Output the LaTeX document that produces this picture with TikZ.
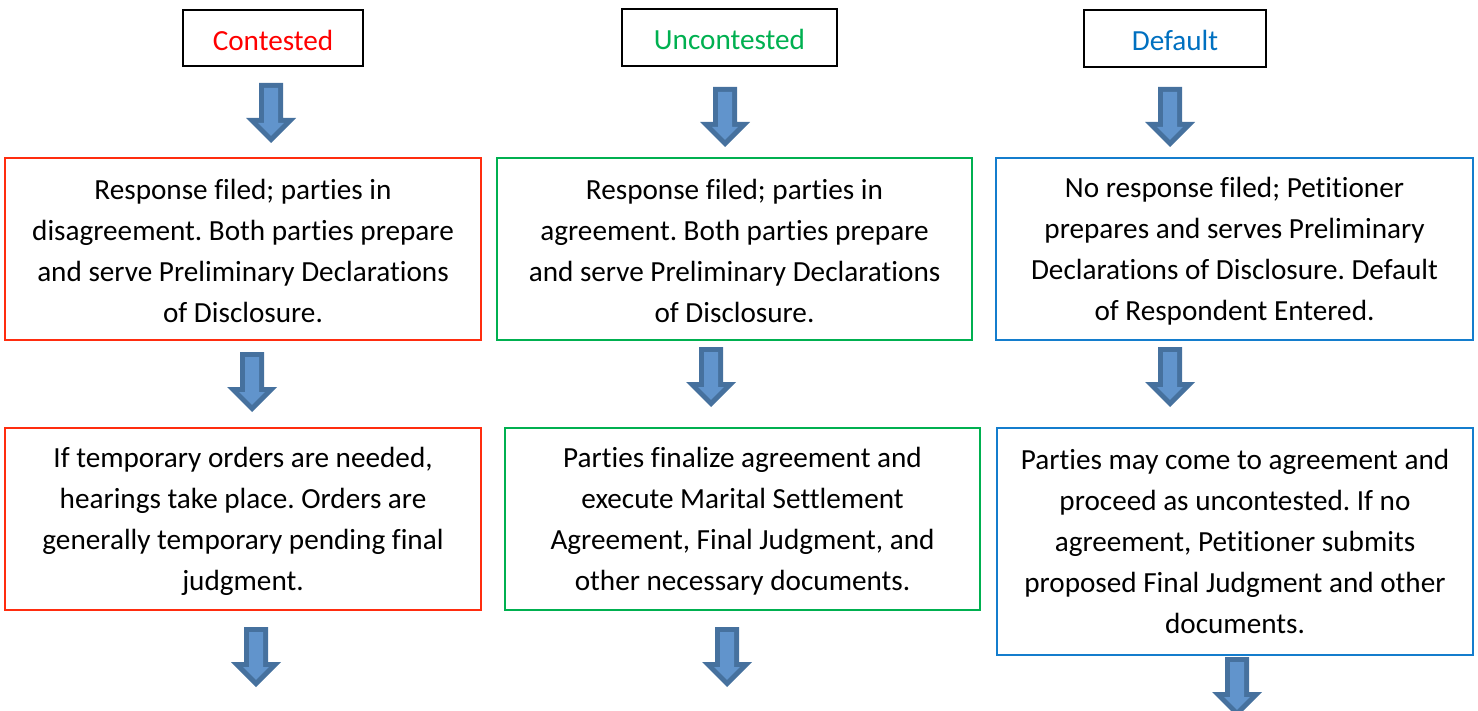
\documentclass[tikz,border=0pt]{standalone}
\usepackage{fontspec}
\setmainfont{Carlito}[Ligatures={NoCommon}]
\frenchspacing
\definecolor{cred}{RGB}{255,0,0}
\definecolor{bred}{RGB}{255,45,15}
\definecolor{cgreen}{RGB}{0,176,80}
\definecolor{cblue}{RGB}{0,112,192}
\definecolor{bblue}{RGB}{20,125,205}
\definecolor{arrowfill}{RGB}{97,148,204}
\definecolor{arrowline}{RGB}{70,113,158}
\newcommand\fstrut{\rule{0pt}{25pt}}
\tikzset{
  box/.style={draw, line width=2pt, inner sep=0pt, align=center,
    font=\fontsize{29.2}{41}\selectfont\frenchspacing},
  titlebox/.style={box, draw=black},
  barrow/.pic={
    \fill[arrowline] (-12,0) -- (12,0) -- (12,35) -- (25,35) -- (0,60) -- (-25,35) -- (-12,35) -- cycle;
    \fill[arrowfill] (-7,5) -- (7,5) -- (7,40) -- (12.9,40) -- (0,52.9) -- (-12.9,40) -- (-7,40) -- cycle;
  }
}
\begin{document}
\begin{tikzpicture}[x=1pt,y=-1pt]
\useasboundingbox (0,0) rectangle (1478,711);
% titles
\node[titlebox, minimum width=180pt, minimum height=56pt, text=cred] (tc) at (273,38) {\fstrut Contested};
\node[titlebox, minimum width=215pt, minimum height=57pt, text=cgreen] (tu) at (729.5,37.5) {\fstrut Uncontested};
\node[titlebox, minimum width=182pt, minimum height=57pt, text=cblue] (td) at (1175,38.5) {\fstrut Default};
% row 2
\node[box, draw=bred, minimum width=476pt, minimum height=182pt] (rc2) at (243,249)
  {\fstrut Response filed; parties in\\disagreement. Both parties prepare\\and serve Preliminary Declarations\\of Disclosure.};
\node[box, draw=cgreen, minimum width=475pt, minimum height=182pt] (ru2) at (734.5,249)
  {\fstrut Response filed; parties in\\agreement. Both parties prepare\\and serve Preliminary Declarations\\of Disclosure.};
\node[box, draw=bblue, minimum width=477pt, minimum height=182pt] (rd2) at (1234.5,249)
  {\fstrut No response filed; Petitioner\\prepares and serves Preliminary\\Declarations of Disclosure. Default\\of Respondent Entered.};
% row 3
\node[box, draw=bred, minimum width=476pt, minimum height=182pt] (rc3) at (243,519)
  {\fstrut If temporary orders are needed,\\hearings take place. Orders are\\generally temporary pending final\\judgment.};
\node[box, draw=cgreen, minimum width=475pt, minimum height=182pt] (ru3) at (742.5,519)
  {\fstrut Parties finalize agreement and\\execute Marital Settlement\\Agreement, Final Judgment, and\\other necessary documents.};
\node[box, draw=bblue, minimum width=476pt, minimum height=227pt] (rd3) at (1235,541.5)
  {Parties may come to agreement and\\proceed as uncontested. If no\\agreement, Petitioner submits\\proposed Final Judgment and other\\documents.};
% block arrows
\pic (a1c) at (271,83) {barrow};
\pic (a1u) at (725,87) {barrow};
\pic (a1d) at (1170,87) {barrow};
\pic (a2c) at (252,352) {barrow};
\pic (a2u) at (711,347) {barrow};
\pic (a2d) at (1170,347) {barrow};
\pic (a3c) at (256,627) {barrow};
\pic (a3u) at (727,627) {barrow};
\pic (a3d) at (1237,657) {barrow};
\end{tikzpicture}
\end{document}
